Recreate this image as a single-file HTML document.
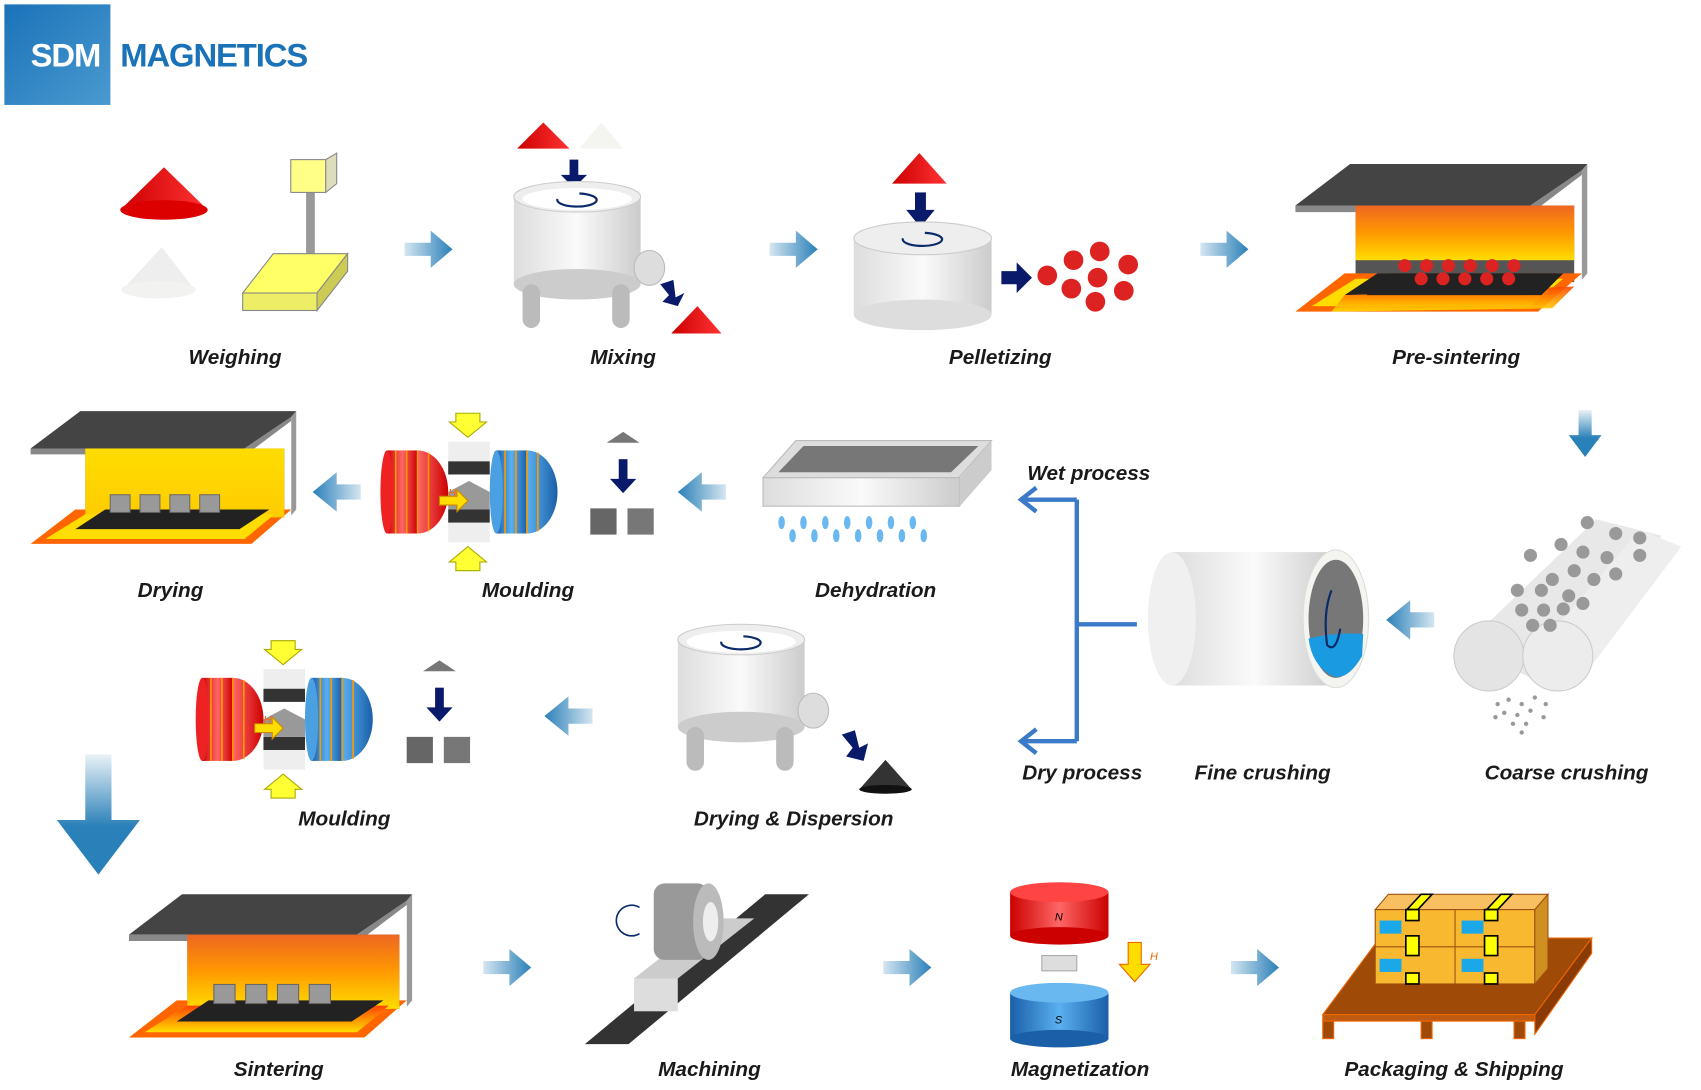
<!DOCTYPE html>
<html><head><meta charset="utf-8"><style>
html,body{margin:0;padding:0;background:#fff;}
svg{display:block;}
.l{font-family:"Liberation Sans",sans-serif;font-weight:bold;font-style:italic;font-size:19px;fill:#1a1a1a;text-anchor:middle;}
</style></head><body>
<svg width="1701" height="1090" viewBox="0 0 1556 997" preserveAspectRatio="none" xmlns="http://www.w3.org/2000/svg">
<defs>
<linearGradient id="logo" x1="0" y1="0" x2="1" y2="1"><stop offset="0" stop-color="#1a72b8"/><stop offset="1" stop-color="#4a9ad0"/></linearGradient>
<linearGradient id="red" x1="0" x2="1"><stop offset="0" stop-color="#c00"/><stop offset="1" stop-color="#f33"/></linearGradient>
<linearGradient id="wht" x1="0" x2="1"><stop offset="0" stop-color="#ddd"/><stop offset="0.5" stop-color="#fafafa"/><stop offset="1" stop-color="#ccc"/></linearGradient>
<linearGradient id="fire" x1="0" y1="0" x2="0" y2="1"><stop offset="0" stop-color="#e62"/><stop offset="0.5" stop-color="#f90"/><stop offset="1" stop-color="#fd0"/></linearGradient>
<linearGradient id="yel" x1="0" y1="0" x2="0" y2="1"><stop offset="0" stop-color="#fd0"/><stop offset="1" stop-color="#fc0"/></linearGradient>
<linearGradient id="side" x1="0" y1="0" x2="0" y2="1"><stop offset="0" stop-color="#f40"/><stop offset="1" stop-color="#fd0"/></linearGradient>
<linearGradient id="arr" x1="0" x2="1"><stop offset="0" stop-color="#2a80b8"/><stop offset="1" stop-color="#2a80b8" stop-opacity="0.2"/></linearGradient>
<linearGradient id="arr2" x1="0" x2="1"><stop offset="0" stop-color="#2a80b8" stop-opacity="0.2"/><stop offset="1" stop-color="#2a80b8"/></linearGradient>
<linearGradient id="arrd" x1="0" y1="0" x2="0" y2="1"><stop offset="0" stop-color="#2a80b8" stop-opacity="0.1"/><stop offset="0.6" stop-color="#2a80b8"/></linearGradient>
<linearGradient id="cylB" x1="0" x2="1"><stop offset="0" stop-color="#1a5fa8"/><stop offset="0.5" stop-color="#5ab0f0"/><stop offset="1" stop-color="#1a5fa8"/></linearGradient>
<linearGradient id="cylR" x1="0" x2="1"><stop offset="0" stop-color="#c00"/><stop offset="0.5" stop-color="#f66"/><stop offset="1" stop-color="#c00"/></linearGradient>
<g id="arR"><polygon points="-22,-6 2,-6 2,-17 22,0 2,17 2,6 -22,6" fill="url(#arr2)"/></g>
<g id="furn">
<rect x="55" y="38" width="200" height="70" fill="#555"/>
<polygon points="0,38 50,0 267,0 262,6 215,38" fill="#444"/>
<polygon points="0,38 215,38 262,6 262,10 217,44 0,44" fill="#888"/>
<polygon points="262,6 267,0 267,100 262,106" fill="#999"/>
<polygon points="0,135 45,100 262,100 222,135" fill="#f60"/>
<polygon points="15,130 55,105 245,105 215,130" fill="#fd0"/>
<polygon points="45,120 75,100 240,100 210,120" fill="#222"/>
</g>
<g id="magnet">
<ellipse cx="30" cy="40" rx="28" ry="38" fill="url(#cylR)"/>
<rect x="2" y="2" width="28" height="76" fill="url(#cylR)"/>
<ellipse cx="2" cy="40" rx="6" ry="38" fill="#e22"/>
<g stroke="#f90" stroke-width="1.5" fill="none"><path d="M10,2 v76 M20,2 v76 M30,2 v76 M40,4 v72"/></g>
<ellipse cx="130" cy="40" rx="28" ry="38" fill="url(#cylB)"/>
<rect x="102" y="2" width="28" height="76" fill="url(#cylB)"/>
<ellipse cx="102" cy="40" rx="6" ry="38" fill="#4aa0e0"/>
<g stroke="#f90" stroke-width="1.5" fill="none"><path d="M110,2 v76 M120,2 v76 M130,2 v76 M140,4 v72"/></g>
<rect x="58" y="-6" width="38" height="30" fill="#eee"/><rect x="58" y="12" width="38" height="12" fill="#333"/>
<rect x="58" y="56" width="38" height="30" fill="#eee"/><rect x="58" y="56" width="38" height="12" fill="#333"/>
<polygon points="58,40 77,30 96,40 96,56 58,56" fill="#999"/>
<polygon points="65,-32 87,-32 87,-24 93,-24 76,-10 59,-24 65,-24" fill="#ff3" stroke="#aa0"/>
<polygon points="65,112 87,112 87,104 93,104 76,90 59,104 65,104" fill="#ff3" stroke="#aa0"/>
<polygon points="50,44 66,44 66,38 76,48 66,58 66,52 50,52" fill="#fd0" stroke="#c80"/>
<text x="58" y="44" font-size="10" fill="#f60" font-family="Liberation Sans" font-style="italic">H</text>
</g>
<g id="cubes">
<polygon points="30,-10 45,0 15,0" fill="#777"/>
<rect x="26" y="15" width="8" height="20" fill="#0a1a6a"/><polygon points="18,33 42,33 30,46" fill="#0a1a6a"/>
<rect x="0" y="60" width="24" height="24" fill="#666"/><rect x="34" y="60" width="24" height="24" fill="#777"/>
</g>
<g id="mixer">
<rect x="0" y="0" width="116" height="80" fill="url(#wht)"/>
<ellipse cx="58" cy="80" rx="58" ry="14" fill="#ccc"/>
<ellipse cx="58" cy="0" rx="58" ry="14" fill="#eee" stroke="#ccc"/>
<ellipse cx="58" cy="2" rx="50" ry="10" fill="#fff"/>
<path d="M40,2 a18,6 0 1 0 20,-5" stroke="#0a2a6a" stroke-width="2" fill="none"/>
<rect x="8" y="80" width="16" height="40" rx="8" fill="#bbb"/>
<rect x="90" y="80" width="16" height="40" rx="8" fill="#bbb"/>
<ellipse cx="124" cy="65" rx="14" ry="16" fill="#ddd" stroke="#bbb"/>
</g>
</defs>

<!-- Logo -->
<rect x="4" y="4" width="97" height="92" fill="url(#logo)"/>
<text x="28" y="61" font-family="Liberation Sans" font-weight="bold" font-size="30" fill="#fff" letter-spacing="-1">SDM</text>
<text x="110" y="61" font-family="Liberation Sans" font-weight="bold" font-size="30" fill="#1a72b8" letter-spacing="-1">MAGNETICS</text>

<!-- Weighing -->
<polygon points="150,153 190,192 110,192" fill="url(#red)"/><ellipse cx="150" cy="192" rx="40" ry="9" fill="#d00"/>
<polygon points="148,226 178,265 112,265" fill="#eee"/><ellipse cx="145" cy="265" rx="34" ry="8" fill="#f2f2f0"/>
<rect x="280" y="175" width="8" height="60" fill="#999"/>
<rect x="266" y="146" width="32" height="30" fill="#ff8" stroke="#888"/><polygon points="298,146 308,140 308,168 298,176" fill="#ddb" stroke="#888"/>
<polygon points="222,268 250,232 318,232 290,268" fill="#ff6" stroke="#888"/><rect x="222" y="268" width="68" height="16" fill="#ee6" stroke="#888"/><polygon points="290,268 318,232 318,248 290,284" fill="#cc5" stroke="#888"/>

<!-- Mixing -->
<polygon points="497,112 521,136 473,136" fill="url(#red)"/>
<polygon points="550,112 570,136 530,136" fill="#f4f4f0"/>
<rect x="521" y="146" width="8" height="16" fill="#0a1a6a"/><polygon points="513,160 537,160 525,172" fill="#0a1a6a"/>
<use href="#mixer" x="470" y="180"/>
<polygon points="604,260 616,256 618,272 626,268 620,280 606,276 612,270" fill="#0a1a6a"/>
<polygon points="638,280 660,305 614,305" fill="url(#red)"/>

<!-- Pelletizing -->
<polygon points="841,140 866,168 816,168" fill="url(#red)"/>
<rect x="837" y="176" width="10" height="18" fill="#0a1a6a"/><polygon points="829,192 855,192 842,208" fill="#0a1a6a"/>
<rect x="781" y="218" width="126" height="70" fill="url(#wht)"/>
<ellipse cx="844" cy="288" rx="63" ry="14" fill="#ddd"/>
<ellipse cx="844" cy="218" rx="63" ry="15" fill="#eee" stroke="#ccc"/>
<path d="M826,218 a18,6 0 1 0 20,-5" stroke="#0a2a6a" stroke-width="2" fill="none"/>
<polygon points="916,248 930,248 930,240 944,254 930,268 930,260 916,260" fill="#0a1a6a"/>
<g fill="#d22"><circle cx="958" cy="252" r="9"/><circle cx="982" cy="238" r="9"/><circle cx="1006" cy="230" r="9"/><circle cx="1032" cy="242" r="9"/><circle cx="980" cy="264" r="9"/><circle cx="1004" cy="254" r="9"/><circle cx="1028" cy="266" r="9"/><circle cx="1002" cy="276" r="9"/></g>

<!-- Pre-sintering -->
<use href="#furn" x="1185" y="150"/>
<rect x="1240" y="188" width="200" height="50" fill="url(#fire)"/>
<polygon points="1218,285 1230,270 1440,262 1420,282" fill="url(#side)" opacity="0.9"/>
<polygon points="1250,270 1270,250 1430,250 1410,270" fill="#222"/>
<g fill="#d22"><circle cx="1285" cy="243" r="6"/><circle cx="1305" cy="243" r="6"/><circle cx="1325" cy="243" r="6"/><circle cx="1345" cy="243" r="6"/><circle cx="1365" cy="243" r="6"/><circle cx="1385" cy="243" r="6"/><circle cx="1300" cy="255" r="6"/><circle cx="1320" cy="255" r="6"/><circle cx="1340" cy="255" r="6"/><circle cx="1360" cy="255" r="6"/><circle cx="1380" cy="255" r="6"/></g>

<!-- Row1 arrows -->
<use href="#arR" x="392" y="228"/><use href="#arR" x="726" y="228"/><use href="#arR" x="1120" y="228"/>
<!-- down arrow right -->
<polygon points="1444,375 1456,375 1456,398 1465,398 1450,418 1435,398 1444,398" fill="url(#arrd)"/>

<!-- Coarse crushing -->
<g>
<polygon points="1340,590 1460,475 1520,490 1420,630" fill="#e8e8e8"/>
<polygon points="1400,600 1500,485 1538,500 1440,630" fill="#eee"/>
<circle cx="1362" cy="600" r="32" fill="#e4e4e4" stroke="#ccc"/>
<circle cx="1425" cy="600" r="32" fill="#ececec" stroke="#ccc"/>
<g fill="#999"><circle cx="1452" cy="478" r="6"/><circle cx="1478" cy="488" r="6"/><circle cx="1500" cy="492" r="6"/><circle cx="1428" cy="498" r="6"/><circle cx="1448" cy="505" r="6"/><circle cx="1470" cy="510" r="6"/><circle cx="1400" cy="508" r="6"/><circle cx="1440" cy="522" r="6"/><circle cx="1500" cy="508" r="6"/><circle cx="1420" cy="530" r="6"/><circle cx="1458" cy="530" r="6"/><circle cx="1388" cy="540" r="6"/><circle cx="1410" cy="540" r="6"/><circle cx="1435" cy="545" r="6"/><circle cx="1478" cy="525" r="6"/><circle cx="1392" cy="558" r="6"/><circle cx="1412" cy="558" r="6"/><circle cx="1430" cy="557" r="6"/><circle cx="1448" cy="552" r="6"/><circle cx="1402" cy="572" r="6"/><circle cx="1418" cy="572" r="6"/></g>
<g fill="#999"><circle cx="1370" cy="644" r="2"/><circle cx="1380" cy="640" r="2"/><circle cx="1392" cy="644" r="2"/><circle cx="1404" cy="638" r="2"/><circle cx="1414" cy="644" r="2"/><circle cx="1376" cy="652" r="2"/><circle cx="1388" cy="654" r="2"/><circle cx="1400" cy="650" r="2"/><circle cx="1412" cy="656" r="2"/><circle cx="1384" cy="662" r="2"/><circle cx="1396" cy="662" r="2"/><circle cx="1392" cy="670" r="2"/><circle cx="1368" cy="656" r="2"/></g>
</g>
<polygon points="1268,567 1290,549 1290,560 1312,560 1312,574 1290,574 1290,585" fill="url(#arr)"/>

<!-- Fine crushing -->
<rect x="1072" y="505" width="150" height="122" fill="url(#wht)"/>
<ellipse cx="1072" cy="566" rx="22" ry="61" fill="#f0f0f0"/>
<ellipse cx="1222" cy="566" rx="30" ry="63" fill="#f4f4f0" stroke="#ddd"/>
<ellipse cx="1222" cy="566" rx="25" ry="54" fill="#777"/>
<path d="M1197,584 Q1222,578 1247,580 L1246,600 Q1232,624 1218,618 Q1200,608 1197,584 Z" fill="#1a9ae0"/>
<path d="M1218,540 Q1210,560 1214,590 Q1222,598 1226,575" stroke="#0a2a6a" stroke-width="2" fill="none"/>

<!-- Wet/Dry bracket -->
<g stroke="#3a7ac8" stroke-width="4" fill="none">
<path d="M1040,571 H985 M985,457 V678 M985,457 H935 M985,678 H935"/>
<path d="M948,446 L934,457 L948,468 M948,667 L934,678 L948,689"/>
</g>
<text class="l" x="996" y="439">Wet process</text>
<text class="l" x="990" y="713">Dry process</text>
<text class="l" x="1155" y="713">Fine crushing</text>
<text class="l" x="1433" y="713">Coarse crushing</text>

<!-- Dehydration -->
<polygon points="698,437 728,403 907,403 877,437" fill="#ddd" stroke="#bbb"/>
<polygon points="712,432 735,408 895,408 870,432" fill="#777"/>
<rect x="698" y="437" width="180" height="26" fill="url(#wht)" stroke="#bbb"/>
<polygon points="878,437 907,403 907,430 878,463" fill="#ccc"/>
<g fill="#6ab8f0"><ellipse cx="715" cy="478" rx="3" ry="6"/><ellipse cx="735" cy="478" rx="3" ry="6"/><ellipse cx="755" cy="478" rx="3" ry="6"/><ellipse cx="775" cy="478" rx="3" ry="6"/><ellipse cx="795" cy="478" rx="3" ry="6"/><ellipse cx="815" cy="478" rx="3" ry="6"/><ellipse cx="835" cy="478" rx="3" ry="6"/><ellipse cx="725" cy="490" rx="3" ry="6"/><ellipse cx="745" cy="490" rx="3" ry="6"/><ellipse cx="765" cy="490" rx="3" ry="6"/><ellipse cx="785" cy="490" rx="3" ry="6"/><ellipse cx="805" cy="490" rx="3" ry="6"/><ellipse cx="825" cy="490" rx="3" ry="6"/><ellipse cx="845" cy="490" rx="3" ry="6"/></g>
<text class="l" x="801" y="546">Dehydration</text>

<polygon points="620,450 642,432 642,443 664,443 664,457 642,457 642,468" fill="url(#arr)"/>
<use href="#cubes" x="540" y="405"/>
<use href="#magnet" x="352" y="410"/>
<text class="l" x="483" y="546">Moulding</text>
<polygon points="286,450 308,432 308,443 330,443 330,457 308,457 308,468" fill="url(#arr)"/>

<!-- Drying furnace -->
<g transform="translate(28,376) scale(0.91,0.9)">
<use href="#furn"/>
<rect x="55" y="38" width="200" height="70" fill="url(#yel)"/>
<polygon points="15,130 55,105 245,105 215,130" fill="#fd0"/>
<polygon points="45,120 75,100 240,100 210,120" fill="#222"/>
<g fill="#999" stroke="#666"><rect x="80" y="85" width="20" height="18"/><rect x="110" y="85" width="20" height="18"/><rect x="140" y="85" width="20" height="18"/><rect x="170" y="85" width="20" height="18"/></g>
</g>
<text class="l" x="156" y="546">Drying</text>

<!-- Row 3 -->
<use href="#mixer" x="620" y="585"/>
<polygon points="770,672 782,668 786,684 794,680 790,696 774,692 780,684" fill="#0a1a6a"/>
<polygon points="810,695 834,722 786,722" fill="#333"/><ellipse cx="810" cy="722" rx="24" ry="4" fill="#111"/>
<text class="l" x="726" y="755">Drying &amp; Dispersion</text>
<polygon points="498,655 520,637 520,648 542,648 542,662 520,662 520,673" fill="url(#arr)"/>
<use href="#cubes" x="372" y="614"/>
<use href="#magnet" x="183" y="618"/>
<text class="l" x="315" y="755">Moulding</text>

<!-- big down arrow -->
<polygon points="78,690 102,690 102,750 128,750 90,800 52,750 78,750" fill="url(#arrd)"/>

<!-- Sintering -->
<g transform="translate(118,818) scale(0.97,0.97)">
<use href="#furn"/>
<rect x="55" y="38" width="200" height="70" fill="url(#fire)"/>
<polygon points="15,130 55,105 245,105 215,130" fill="url(#side)"/>
<polygon points="45,120 75,100 240,100 210,120" fill="#222"/>
<g fill="#999" stroke="#666"><rect x="80" y="85" width="20" height="18"/><rect x="110" y="85" width="20" height="18"/><rect x="140" y="85" width="20" height="18"/><rect x="170" y="85" width="20" height="18"/></g>
</g>
<text class="l" x="255" y="984">Sintering</text>
<use href="#arR" x="464" y="885"/><use href="#arR" x="830" y="885"/><use href="#arR" x="1148" y="885"/>

<!-- Machining -->
<polygon points="535,955 700,818 740,818 575,955" fill="#333"/>
<polygon points="580,895 650,840 690,840 620,895" fill="#ccc"/>
<rect x="580" y="895" width="40" height="30" fill="#ddd"/>
<rect x="598" y="808" width="50" height="70" rx="10" fill="#999"/>
<ellipse cx="648" cy="843" rx="14" ry="35" fill="#bbb"/><ellipse cx="650" cy="843" rx="7" ry="18" fill="#eee"/>
<path d="M585,830 a14,14 0 1 0 0,24" stroke="#0a2a6a" stroke-width="1.5" fill="none"/>
<text class="l" x="649" y="984">Machining</text>

<!-- Magnetization -->
<rect x="924" y="816" width="90" height="40" fill="url(#cylR)"/><ellipse cx="969" cy="856" rx="45" ry="8" fill="#c00"/><ellipse cx="969" cy="816" rx="45" ry="9" fill="#f44"/>
<text x="965" y="842" font-size="10" font-style="italic" font-family="Liberation Sans">N</text>
<rect x="953" y="874" width="32" height="14" fill="#ddd" stroke="#aaa"/>
<rect x="924" y="908" width="90" height="42" fill="url(#cylB)"/><ellipse cx="969" cy="950" rx="45" ry="8" fill="#1a5fa8"/><ellipse cx="969" cy="908" rx="45" ry="9" fill="#6ab8f0"/>
<text x="965" y="936" font-size="10" font-style="italic" font-family="Liberation Sans">S</text>
<polygon points="1032,862 1044,862 1044,882 1052,882 1038,898 1024,882 1032,882" fill="#fd0" stroke="#e60"/>
<text x="1052" y="878" font-size="10" font-style="italic" fill="#e60" font-family="Liberation Sans">H</text>
<text class="l" x="988" y="984">Magnetization</text>

<!-- Packaging -->
<polygon points="1210,928 1262,858 1456,858 1404,928" fill="#a04a08" stroke="#e60"/>
<rect x="1210" y="928" width="194" height="6" fill="#c05a10" stroke="#e60"/>
<g fill="#a04a08" stroke="#e60"><rect x="1210" y="934" width="10" height="16"/><rect x="1300" y="934" width="10" height="16"/><rect x="1385" y="934" width="10" height="16"/></g>
<polygon points="1404,928 1456,858 1456,872 1404,946" fill="#8a3a05" stroke="#e60"/>
<polygon points="1258,832 1270,818 1416,818 1404,832" fill="#f8c060" stroke="#a05010"/>
<rect x="1258" y="832" width="146" height="68" fill="#f8b830" stroke="#a05010"/>
<line x1="1258" y1="866" x2="1404" y2="866" stroke="#a05010"/><line x1="1331" y1="832" x2="1331" y2="900" stroke="#a05010"/>
<polygon points="1404,832 1416,818 1416,886 1404,900" fill="#d09020" stroke="#a05010"/>
<g fill="#1aa8e8"><rect x="1262" y="842" width="20" height="12"/><rect x="1337" y="842" width="20" height="12"/><rect x="1262" y="877" width="20" height="12"/><rect x="1337" y="877" width="20" height="12"/></g>
<g fill="#ff0" stroke="#000" stroke-width="1.5"><polygon points="1287,832 1300,818 1310,818 1297,832"/><rect x="1286" y="832" width="12" height="10"/><rect x="1286" y="856" width="12" height="18"/><rect x="1286" y="890" width="12" height="10"/><polygon points="1360,832 1373,818 1383,818 1370,832"/><rect x="1358" y="832" width="12" height="10"/><rect x="1358" y="856" width="12" height="18"/><rect x="1358" y="890" width="12" height="10"/></g>
<text class="l" x="1330" y="984">Packaging &amp; Shipping</text>

<!-- Row1 labels -->
<text class="l" x="215" y="333">Weighing</text>
<text class="l" x="570" y="333">Mixing</text>
<text class="l" x="915" y="333">Pelletizing</text>
<text class="l" x="1332" y="333">Pre-sintering</text>
</svg>
</body></html>
